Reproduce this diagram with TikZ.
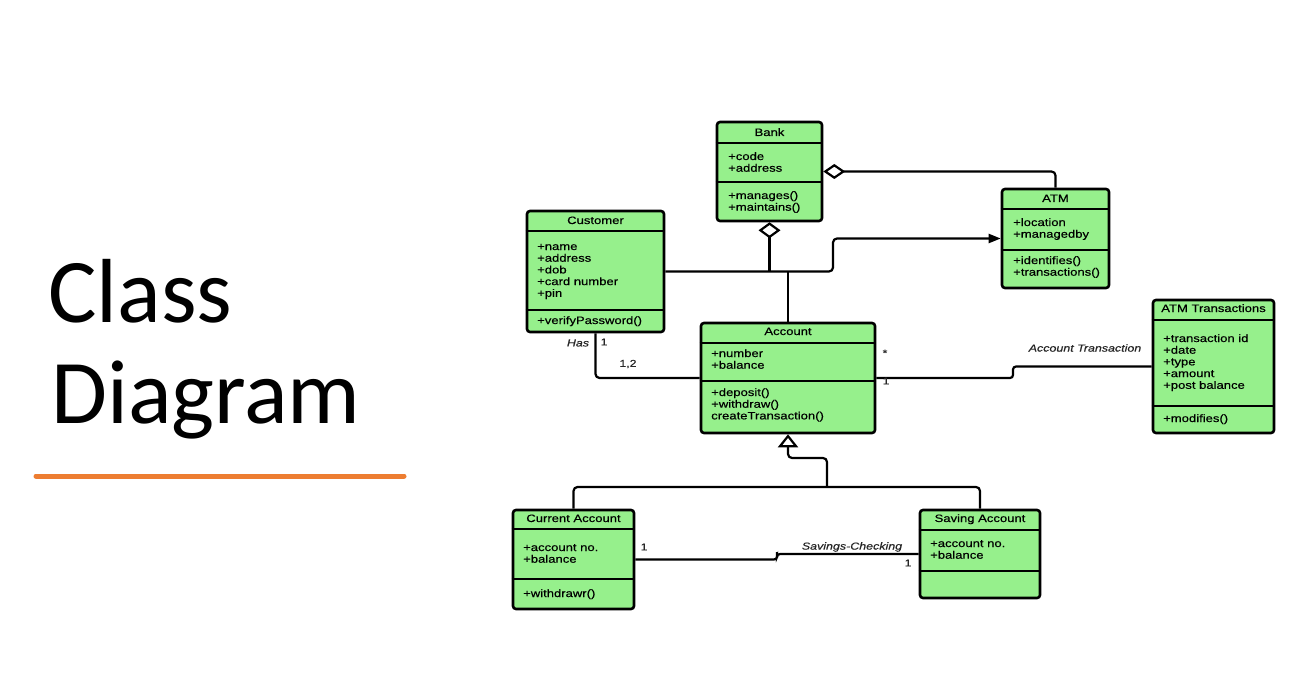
\documentclass[tikz,border=0pt]{standalone}
\usepackage{fontspec}
\setmainfont{Liberation Sans}
\newfontfamily\titlefont{Carlito}
\newfontfamily\boxfont[FakeStretch=1.22,FakeBold=0.4]{Liberation Sans}
\usetikzlibrary{arrows.meta}
\definecolor{boxgreen}{RGB}{150,240,140}
\definecolor{uline}{RGB}{237,125,49}
\newcommand\classbox[9]{%
  \node[cls, minimum width={#4pt-#2pt}, minimum height={#5pt-#3pt}] (#1) at ({(#2+#4)/2},{(#3+#5)/2}) {};
  \draw[sepline] (#1.west |- 0,#6) -- (#1.east |- 0,#6);
  \draw[sepline] (#1.west |- 0,#7) -- (#1.east |- 0,#7);
  \node[txt, anchor=base] (#1-t) at (#1.north |- 0,#8) {#9};
}
\newcommand\classlines[4]{%
  \foreach \t [count=\i] in {#4} {\node[txt, anchor=base west] (#1-\i) at (#2,{#3+(\i-1)*11.7}) {\t};}%
}
\begin{document}
\begin{tikzpicture}[x=1pt,y=-1pt,
  cls/.style={draw=black, line width=2.6pt, fill=boxgreen, rounded corners=3pt, inner sep=0pt},
  sepline/.style={line width=2.3pt},
  conn/.style={line width=2.2pt, rounded corners=4pt},
  txt/.style={font=\boxfont\fontsize{10.7}{12}\selectfont, inner sep=0pt, text=black},
  lbl/.style={font=\boxfont\fontsize{10.2}{12}\selectfont\itshape, inner sep=0pt, text=black!85},
  mult/.style={font=\boxfont\fontsize{10}{12}\selectfont, inner sep=0pt, text=black!85},
  ttl/.style={font=\titlefont\fontsize{91}{100}\selectfont, inner sep=0pt, anchor=base west}]
\fill[white] (0,0) rectangle (1290,695);
\useasboundingbox (0,0) rectangle (1290,695);

% title
\node[ttl] (t1) at (48,322) {Class};
\node[ttl] (t2) at (51,423) {Diagram};
\coordinate (u1) at (36,476);
\coordinate (u2) at (404,476);
\draw[uline, line width=5pt, line cap=round] (u1) -- (u2);

% classes
\classbox{bank}{717}{122}{822}{221}{143}{182}{136}{Bank}
\classlines{bank-a}{728}{160}{+code,+address}
\classlines{bank-m}{728}{199}{+manages(),+maintains()}

\classbox{customer}{527}{211}{664}{332}{231}{310}{224}{Customer}
\classlines{cust-a}{537}{250}{+name,+address,+dob,+card number,+pin}
\classlines{cust-m}{537}{324}{+verifyPassword()}

\classbox{atm}{1002}{189}{1109}{288}{209}{250}{202}{ATM}
\classlines{atm-a}{1013}{226}{+location,+managedby}
\classlines{atm-m}{1013}{264}{+identifies(),+transactions()}

\classbox{account}{701}{323}{875}{433}{343}{381}{335}{Account}
\classlines{acc-a}{711}{357}{+number,+balance}
\classlines{acc-m}{711}{396}{+deposit(),+withdraw(),createTransaction()}

\classbox{atmtr}{1153}{300}{1274}{433}{320}{406}{312}{ATM Transactions}
\classlines{atmtr-a}{1163}{342}{+transaction id,+date,+type,+amount,+post balance}
\classlines{atmtr-m}{1163}{422}{+modifies()}

\classbox{current}{513}{510}{634}{609}{529}{579}{522}{Current Account}
\classlines{cur-a}{523}{551}{+account no.,+balance}
\classlines{cur-m}{523}{597}{+withdrawr()}

\classbox{saving}{920}{510}{1040}{598}{530}{571}{522}{Saving Account}
\classlines{sav-a}{930}{547}{+account no.,+balance}

% connectors
\draw[conn, {Diamond[open, length=22pt, width=15pt]}-] (bank.east) -| (atm.north);
\draw[conn, {Diamond[open, length=16pt, width=22pt]}-] (bank.south) -- (bank.south |- customer.east);
\coordinate (bendA) at (833,0);
\draw[conn, -{Triangle[length=12pt, width=9pt]}] (customer.east) -| (bendA |- atm.west) -- (atm.west);
\draw[conn] (account.north) -- (account.north |- customer.east);
\draw[conn] (customer.south) |- (account.west);
\coordinate (stepA) at (1013,372);
\draw[conn, rounded corners=3pt] (account.east) -| (stepA) |- (atmtr.west);
\coordinate (gj) at (827,487);
\draw[conn] (current.north) |- (gj) -| (saving.north);
\draw[conn, -{Triangle[open, length=13pt, width=20pt]}] (gj) -- ++(0,-29) -| (account.south);
\coordinate (stepB) at (777,555);
\draw[conn, rounded corners=3pt] (current.east) -| (stepB) |- (saving.west);

% labels
\node[lbl] (has) at (578,343) {Has};
\node[mult] (m1) at (604,342) {1};
\node[mult] (m2) at (628,364) {1,2};
\node[mult] (m3) at (885,353) {*};
\node[mult] (m4) at (886,381) {1};
\node[lbl] (accTr) at (1085,348) {Account Transaction};
\node[mult] (m5) at (644,547) {1};
\node[lbl] (savCh) at (852,547) {Savings-Checking};
\node[mult] (m6) at (908,563) {1};
\end{tikzpicture}
\end{document}
